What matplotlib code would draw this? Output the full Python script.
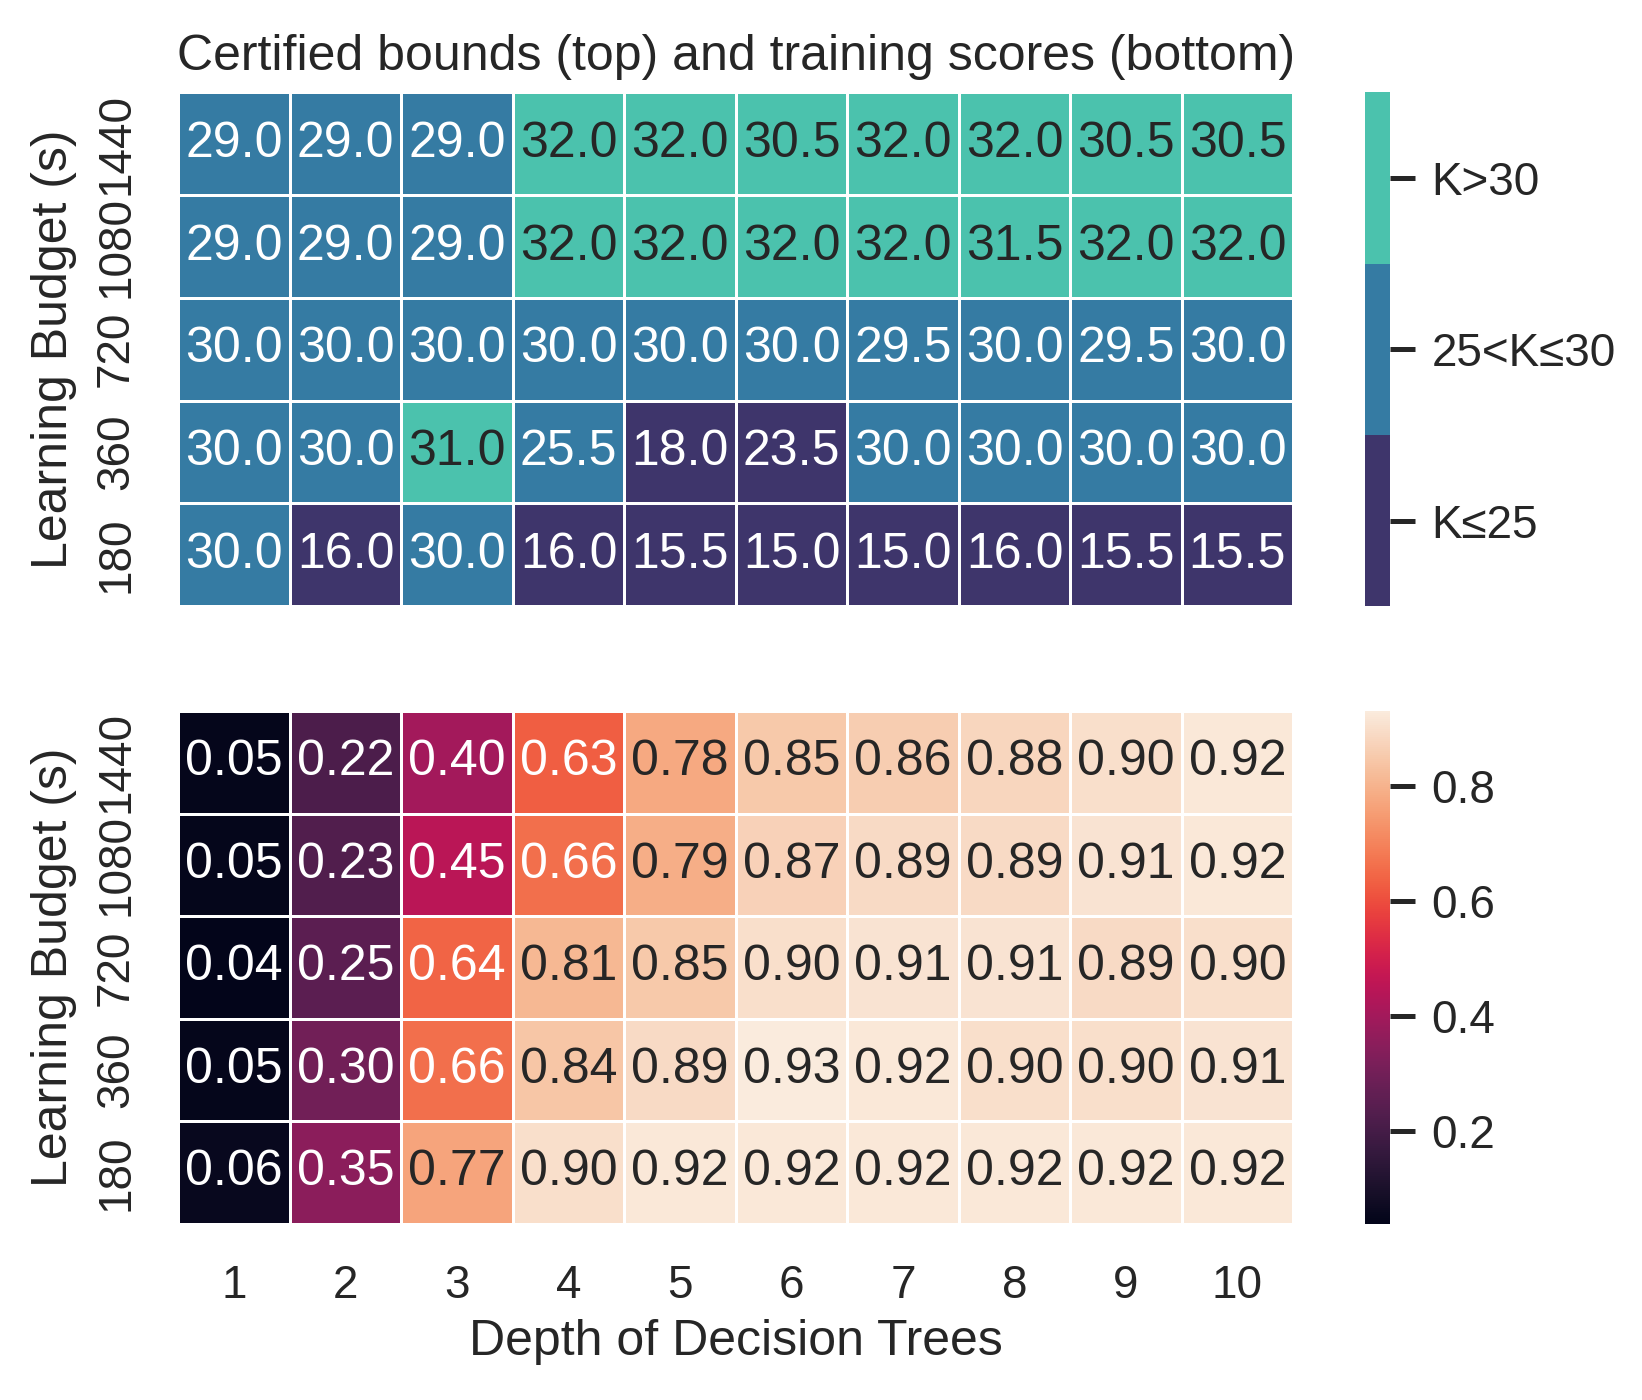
import numpy as np
import seaborn as sns
import matplotlib.pyplot as plt
from matplotlib.colors import ListedColormap

sns.set_theme(context="talk", style="white")
plt.rcParams['font.family'] = ['Liberation Sans', 'DejaVu Sans']

budgets = ["1440", "1080", "720", "360", "180"]
depths = ["1", "2", "3", "4", "5", "6", "7", "8", "9", "10"]

bounds = [
    [29.0, 29.0, 29.0, 32.0, 32.0, 30.5, 32.0, 32.0, 30.5, 30.5],
    [29.0, 29.0, 29.0, 32.0, 32.0, 32.0, 32.0, 31.5, 32.0, 32.0],
    [30.0, 30.0, 30.0, 30.0, 30.0, 30.0, 29.5, 30.0, 29.5, 30.0],
    [30.0, 30.0, 31.0, 25.5, 18.0, 23.5, 30.0, 30.0, 30.0, 30.0],
    [30.0, 16.0, 30.0, 16.0, 15.5, 15.0, 15.0, 16.0, 15.5, 15.5],
]

scores = [
    [0.05, 0.22, 0.40, 0.63, 0.78, 0.85, 0.86, 0.88, 0.90, 0.92],
    [0.05, 0.23, 0.45, 0.66, 0.79, 0.87, 0.89, 0.89, 0.91, 0.92],
    [0.04, 0.25, 0.64, 0.81, 0.85, 0.90, 0.91, 0.91, 0.89, 0.90],
    [0.05, 0.30, 0.66, 0.84, 0.89, 0.93, 0.92, 0.90, 0.90, 0.91],
    [0.06, 0.35, 0.77, 0.90, 0.92, 0.92, 0.92, 0.92, 0.92, 0.92],
]

bound_labels = ["K≤25", "25<K≤30", "K>30"]

# bucket the certified bounds into the three classes
K = np.array(bounds)
cats = np.where(K <= 25, 0, np.where(K <= 30, 1, 2))

fig = plt.figure(figsize=(8.21, 7.0), dpi=200)
ax1 = fig.add_axes([0.1086, 0.567, 0.679, 0.367])
cax1 = fig.add_axes([0.831, 0.567, 0.0155, 0.367])
ax2 = fig.add_axes([0.1086, 0.126, 0.679, 0.366])
cax2 = fig.add_axes([0.831, 0.126, 0.0155, 0.366])

annot_kw = {"fontsize": 18}
cmap1 = ListedColormap(sns.color_palette("mako", 3))
sns.heatmap(cats, ax=ax1, cbar_ax=cax1, cmap=cmap1, vmin=-0.5, vmax=2.5,
            annot=K, fmt=".1f", annot_kws=annot_kw, linewidths=1, linecolor="white",
            xticklabels=False, yticklabels=budgets)
cb1 = ax1.collections[0].colorbar
cb1.set_ticks([0, 1, 2])
cb1.set_ticklabels(bound_labels)
cb1.outline.set_visible(False)

sns.heatmap(np.array(scores), ax=ax2, cbar_ax=cax2, cmap="rocket",
            annot=True, fmt=".2f", annot_kws=annot_kw, linewidths=1, linecolor="white",
            xticklabels=depths, yticklabels=budgets)
cb2 = ax2.collections[0].colorbar
cb2.set_ticks([0.2, 0.4, 0.6, 0.8])
cb2.outline.set_visible(False)

for cb in (cb1, cb2):
    cb.ax.tick_params(length=9, width=1.8, color="#262626", labelsize=16.5, pad=6, right=True)

for ax in (ax1, ax2):
    ax.tick_params(length=0, labelsize=16.5, pad=14.5)
    ax.set_ylabel("Learning Budget (s)", fontsize=18, labelpad=6)
    plt.setp(ax.get_yticklabels(), rotation=90, va="center")
ax2.set_xlabel("Depth of Decision Trees", fontsize=18)
plt.setp(ax2.get_xticklabels(), rotation=0)
ax1.set_title("Certified bounds (top) and training scores (bottom)", fontsize=18, pad=8)

plt.savefig("out.png", dpi=200)
